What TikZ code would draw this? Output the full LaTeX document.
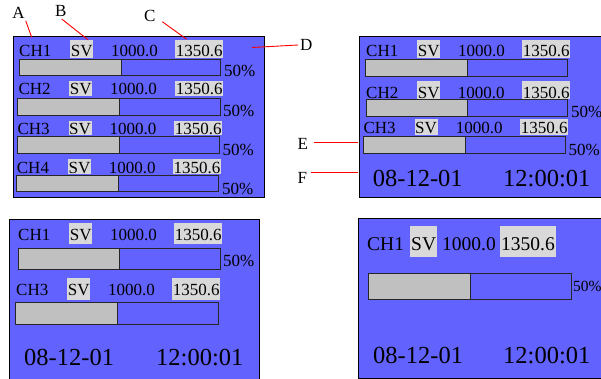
\documentclass[tikz,border=0pt]{standalone}
\usepackage{fontspec}
\setmainfont{Liberation Serif}
\definecolor{panelblue}{RGB}{98,98,255}
\definecolor{bargray}{RGB}{192,192,192}
\definecolor{hlgray}{RGB}{217,217,217}
\tikzset{
  panel/.style={fill=panelblue, draw=black, line width=1pt},
  txt/.style={anchor=base west, inner sep=0pt, font=\fontsize{17}{20}\selectfont},
  hl/.style={anchor=base west, fill=hlgray, inner xsep=0.7pt, inner ysep=0.5pt,
             text height=16.5pt, text depth=0.5pt, font=\fontsize{17}{20}\selectfont},
  bigtxt/.style={anchor=base west, inner sep=0pt, font=\fontsize{24.5}{28}\selectfont},
  letter/.style={anchor=base west, inner sep=0pt, font=\fontsize{17}{20}\selectfont},
  leader/.style={draw=red, line width=0.9pt},
  barline/.style={draw=black!85, line width=1pt},
}
\newcommand\prow[8]{%
  \node[txt] (#1ch) at (#3,#4) {#2};
  \node[hl,#8] (#1sv) at (#5,#4) {SV};
  \node[txt] (#1va) at (#6,#4) {1000.0};
  \node[hl,#8] (#1vb) at (#7,#4) {1350.6};
}
\newcommand\pbar[6]{%
  \fill[bargray] (#2,#3) rectangle (#6,#5);
  \draw[barline] (#2,#3) rectangle (#4,#5);
  \draw[barline] (#6,#3) -- (#6,#5);
  \coordinate (#1) at (#2,#3);
}
\begin{document}
\begin{tikzpicture}[x=1pt,y=-1pt]
\clip (0,0) rectangle (601,379);
\fill[white] (0,0) rectangle (601,379);

% ---------- panel 1 ----------
\draw[panel] (13,37) rectangle (264,197);
\prow{a1}{CH1}{19}{56.7}{70}{111}{175}{}
\pbar{ab1}{19.3}{59.3}{220.7}{76}{121}
\node[txt] (ap1) at (224,77) {50\%};
\prow{a2}{CH2}{18.3}{95}{69}{110}{175}{text height=13pt}
\pbar{ab2}{17.7}{98.7}{220.7}{115.7}{119}
\node[txt] (ap2) at (223,117) {50\%};
\prow{a3}{CH3}{17.3}{134.3}{68.3}{109.3}{174}{text height=13pt}
\pbar{ab3}{17}{137}{219}{154}{119.3}
\node[txt] (ap3) at (222.3,155.7) {50\%};
\prow{a4}{CH4}{16.7}{173.3}{67.7}{108.7}{172.7}{text height=13.5pt}
\pbar{ab4}{16}{176}{218}{192}{118.7}
\node[txt] (ap4) at (222,194.3) {50\%};

% ---------- panel 2 ----------
\draw[panel] (359,37) rectangle (606,197);
\prow{b1}{CH1}{366}{56.7}{417}{458}{522}{}
\pbar{bb1}{365}{60}{567}{77}{467}
\prow{b2}{CH2}{366}{98.5}{417}{457.7}{522}{text height=17pt}
\pbar{bb2}{366}{99.5}{567}{117}{467}
\node[txt] (bp2) at (571,118) {50\%};
\prow{b3}{CH3}{363.3}{134}{414.3}{455.7}{520}{text height=14.5pt}
\pbar{bb3}{363}{137}{565}{154}{465}
\node[txt] (bp3) at (568.3,155.7) {50\%};
\node[bigtxt] (bdate) at (372.7,186) {08-12-01};
\node[bigtxt] (btime) at (503,186) {12:00:01};

% ---------- panel 3 ----------
\draw[panel] (9,219) rectangle (259,390);
\prow{c1}{CH1}{18}{240}{69}{110}{174}{text depth=3.8pt}
\pbar{cb1}{18}{248}{220}{269}{119}
\node[txt] (cp1) at (223,266) {50\%};
\prow{c2}{CH3}{16}{295}{67}{108}{172}{text depth=4.5pt}
\pbar{cb2}{15}{302}{218}{324}{117}
\node[bigtxt] (cdate) at (24,365) {08-12-01};
\node[bigtxt] (ctime) at (156,365) {12:00:01};

% ---------- panel 4 ----------
\draw[panel] (358,218) rectangle (606,378);
\begin{scope}[txt/.append style={font=\fontsize{19.5}{23}\selectfont},
              hl/.append style={font=\fontsize{19.5}{23}\selectfont}]
\prow{d1}{CH1}{367}{250}{410}{442}{500}{text height=23.5pt,text depth=6.5pt,inner xsep=1pt}
\end{scope}
\pbar{db1}{368}{273}{571}{299}{470}
\node[txt, font=\fontsize{15.5}{18}\selectfont] (dp1) at (573,291) {50\%};
\node[bigtxt] (ddate) at (373,363) {08-12-01};
\node[bigtxt] (dtime) at (503,363) {12:00:01};

% ---------- callout letters ----------
\node[letter] (A) at (12.3,18.3) {A};
\node[letter] (B) at (55,17) {B};
\node[letter] (C) at (144,21.7) {C};
\node[letter] (D) at (300,50.7) {D};
\node[letter] (E) at (297.3,150) {E};
\node[letter] (F) at (297.3,183) {F};
\coordinate (As) at (25.7,20.7);  \coordinate (At) at (31.7,37.3);
\coordinate (Bs) at (61.7,19);    \coordinate (Bt) at (88.3,40);
\coordinate (Cs) at (162.3,21.7); \coordinate (Ct) at (186.7,39.3);
\coordinate (Ds) at (298,45);     \coordinate (Dt) at (252,47.5);
\coordinate (Es) at (314,142.7);  \coordinate (Et) at (358,142.7);
\coordinate (Fs) at (310.7,172.7);\coordinate (Ft) at (358.3,172.7);
\draw[leader] (As) -- (At);
\draw[leader] (Bs) -- (Bt);
\draw[leader] (Cs) -- (Ct);
\draw[leader] (Ds) -- (Dt);
\draw[leader] (Es) -- (Et);
\draw[leader] (Fs) -- (Ft);
\end{tikzpicture}
\end{document}
